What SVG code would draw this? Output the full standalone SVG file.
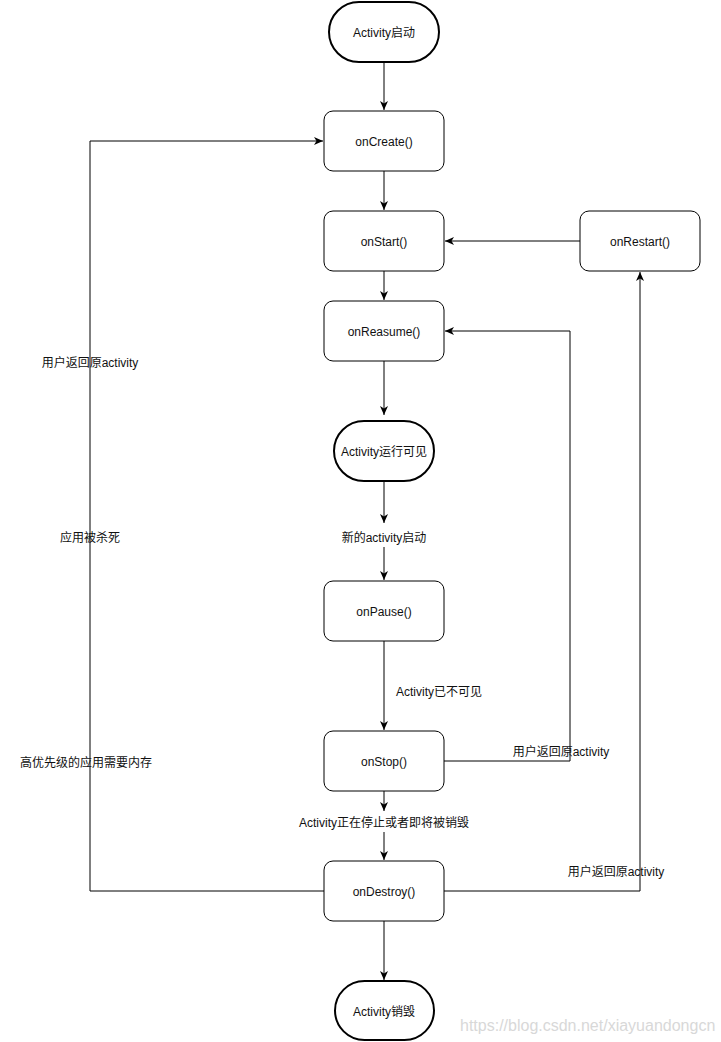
<svg xmlns="http://www.w3.org/2000/svg" width="721" height="1042" viewBox="0 0 721 1042">
<defs>
<marker id="arr" markerUnits="userSpaceOnUse" markerWidth="10" markerHeight="8" refX="9" refY="4" orient="auto">
<path d="M0,0 L9,4 L0,8 L2.5,4 Z" fill="#000"/>
</marker>
<style>
text{font-family:"Liberation Sans","Noto Sans CJK SC",Arial,sans-serif;font-size:12px;fill:#111;}
.c{text-anchor:middle;}
.n{fill:#fff;stroke:#000;stroke-width:1;}
.t{fill:#fff;stroke:#000;stroke-width:2;}
.e{fill:none;stroke:#000;stroke-width:1;marker-end:url(#arr);}
.wm{font-size:16px;fill:#d8d8d8;}
</style>
</defs>
<rect width="721" height="1042" fill="#fff"/>
<g id="connectors">
<path class="e" d="M384,62 L384,110"/>
<path class="e" d="M384,171 L384,210"/>
<path class="e" d="M384,271 L384,300"/>
<path class="e" d="M384,361 L384,415"/>
<path class="e" d="M384,481 L384,523"/>
<path class="e" d="M384,547 L384,580"/>
<path class="e" d="M384,641 L384,730"/>
<path class="e" d="M384,791 L384,811"/>
<path class="e" d="M384,832 L384,860"/>
<path class="e" d="M384,921 L384,980"/>
<path class="e" d="M580,241 L445,241"/>
<path class="e" d="M444,761 L570,761 L570,331 L445,331"/>
<path class="e" d="M444,891 L640,891 L640,272"/>
<path class="e" d="M324,891 L90,891 L90,141 L323,141"/>
</g>
<g id="edge-labels">
<text x="439" y="696" class="c">Activity已不可见</text>
<text x="561" y="756" class="c">用户返回原activity</text>
<text x="616" y="876" class="c">用户返回原activity</text>
<text x="90" y="367" class="c">用户返回原activity</text>
<text x="90" y="542" class="c">应用被杀死</text>
<text x="86" y="767" class="c">高优先级的应用需要内存</text>
</g>
<g id="label-new-activity"><text x="384" y="542" class="c">新的activity启动</text></g>
<g id="label-stopping"><text x="384" y="827" class="c">Activity正在停止或者即将被销毁</text></g>
<g id="start"><rect class="t" x="329" y="2" width="110" height="60" rx="30"/><text x="384" y="37" class="c">Activity启动</text></g>
<g id="onCreate"><rect class="n" x="324" y="111" width="120" height="60" rx="9"/><text x="384" y="146" class="c">onCreate()</text></g>
<g id="onStart"><rect class="n" x="324" y="211" width="120" height="60" rx="9"/><text x="384" y="246" class="c">onStart()</text></g>
<g id="onRestart"><rect class="n" x="580" y="211" width="120" height="60" rx="9"/><text x="640" y="246" class="c">onRestart()</text></g>
<g id="onReasume"><rect class="n" x="324" y="301" width="120" height="60" rx="9"/><text x="384" y="336" class="c">onReasume()</text></g>
<g id="running"><rect class="t" x="334" y="421" width="100" height="60" rx="30"/><text x="384" y="456" class="c">Activity运行可见</text></g>
<g id="onPause"><rect class="n" x="324" y="581" width="120" height="60" rx="9"/><text x="384" y="616" class="c">onPause()</text></g>
<g id="onStop"><rect class="n" x="324" y="731" width="120" height="60" rx="9"/><text x="384" y="766" class="c">onStop()</text></g>
<g id="onDestroy"><rect class="n" x="324" y="861" width="120" height="60" rx="9"/><text x="384" y="896" class="c">onDestroy()</text></g>
<g id="destroyed"><rect class="t" x="335" y="981" width="99" height="59" rx="29.5"/><text x="384" y="1016" class="c">Activity销毁</text></g>
<text x="460" y="1031" class="wm">https://blog.csdn.net/xiayuandongcn</text>
</svg>
